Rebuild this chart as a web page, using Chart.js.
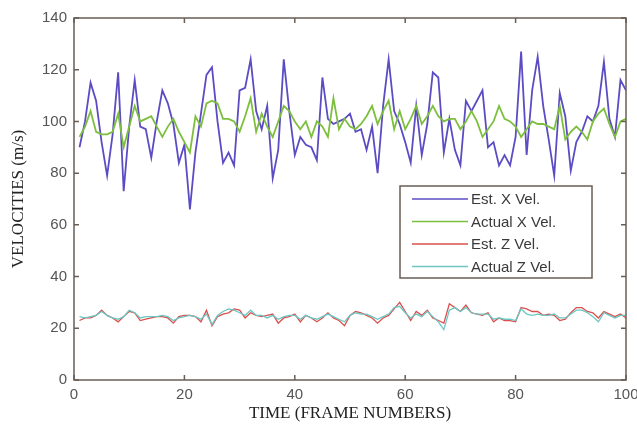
<!DOCTYPE html>
<html>
<head>
<meta charset="utf-8">
<script src="https://cdn.jsdelivr.net/npm/chart.js@4"></script>
<style>
  html, body { margin: 0; padding: 0; background: #fff; }
  #wrap { width: 637px; height: 424px; position: relative; }
</style>
</head>
<body>
<div id="wrap"><canvas id="velChart" width="637" height="424"></canvas></div>
<script>
// frame numbers 1..100
const frames = Array.from({ length: 100 }, (_, i) => i + 1);

const estXVel = [
  90, 100, 115, 108, 92, 79, 95, 119, 73, 98,
  116, 98, 97, 86, 100, 112, 107, 99, 84, 91,
  66, 88, 103, 118, 121, 100, 84, 88, 83, 112,
  113, 124, 104, 97, 106, 78, 89, 124, 104, 87,
  94, 91, 90, 85, 117, 101, 99, 100, 101, 103,
  96, 97, 89, 98, 80, 106, 124, 104, 99, 92,
  84, 106, 87, 99, 119, 117, 88, 101, 89, 83,
  108, 104, 108, 112, 90, 92, 83, 87, 83, 94,
  127, 87, 112, 125, 106, 93, 79, 111, 102, 81,
  92, 96, 102, 100, 106, 123, 101, 94, 116, 112
];

const actualXVel = [
  94, 98, 104, 96, 95, 95, 96, 103, 90, 98,
  106, 100, 101, 102, 98, 94, 98, 101, 96, 92,
  88, 102, 98, 107, 108, 107, 101, 101, 100, 96,
  102, 109, 96, 103, 98, 94, 100, 106, 104, 100,
  97, 100, 94, 100, 98, 94, 109, 97, 101, 98,
  97, 99, 102, 106, 99, 104, 108, 97, 104, 97,
  101, 106, 99, 102, 106, 102, 100, 101, 101, 97,
  100, 104, 100, 94, 97, 100, 106, 101, 100, 98,
  94, 97, 100, 99, 99, 98, 97, 106, 93, 96,
  98, 96, 93, 100, 103, 105, 99, 94, 100, 101
];

const estZVel = [
  23, 24, 24, 25, 27, 25, 24, 22.5, 24.5, 26.5,
  26, 23, 23.5, 24, 24.5, 24.5, 24, 22, 24.5, 25,
  25, 24.5, 22.5, 27, 21, 24.5, 25.5, 26, 27.5, 27,
  24, 26, 25, 24.5, 25, 25.5, 22, 24, 24.5, 25.5,
  22.5, 25, 24, 22.5, 24, 26, 24, 23, 21, 25,
  26.5, 26, 25, 24, 22, 24, 25, 27.5, 30, 26.5,
  23, 26.5, 25, 27, 24, 23, 22, 29.5, 28, 26.5,
  29, 26, 25.5, 25, 26, 22.5, 24, 23, 23, 22.5,
  28, 27.5, 26.5, 26.5, 25, 25.5, 25, 23, 23.5, 26,
  28, 28, 26.5, 26, 24, 26.5, 25.5, 24.5, 25.5, 24
];

const actualZVel = [
  24.5, 24, 24.5, 25, 26.5, 25, 24, 23.5, 24.5, 27,
  26, 24, 24.5, 24.5, 24.5, 25, 24.5, 23, 24, 24.5,
  25, 24.5, 23.5, 25.5, 21.5, 25, 26.5, 27.5, 27, 26,
  25, 27, 25, 25, 24, 25, 23.5, 24.5, 25, 25,
  23.5, 25, 24, 23.5, 24.5, 25.5, 24.5, 23.5, 22.5, 25,
  26, 25.5, 25.5, 24.5, 23.5, 24.5, 25.5, 28, 28.5, 26,
  24, 25.5, 24.5, 26.5, 24.5, 22.5, 19.5, 27, 28, 26.5,
  28, 26, 25.5, 25.5, 25.5, 23.5, 24, 23.5, 23.5, 23,
  27.5, 25.5, 25, 25.5, 25, 25, 25.5, 24, 24, 25.5,
  27, 27, 26, 24.5, 22.5, 26, 25, 24, 25, 25
];

const xTicks = [0, 20, 40, 60, 80, 100];
const yTicks = [0, 20, 40, 60, 80, 100, 120, 140];

const seriesNames = ['Est. X Vel.', 'Actual X Vel.', 'Est. Z Vel.', 'Actual Z Vel.'];

const toPoints = vals => vals.map((v, i) => ({ x: frames[i], y: v }));

const axisColor = '#6a5e54';
const tickFont = { family: 'Liberation Sans, Arial, sans-serif', size: 15 };

// MATLAB style box with inward ticks + in-plot legend
const matlabBox = {
  id: 'matlabBox',
  afterDraw(chart) {
    const { ctx, chartArea: a, scales } = chart;
    ctx.save();
    ctx.strokeStyle = axisColor;
    ctx.lineWidth = 1.5;
    ctx.strokeRect(a.left, a.top, a.right - a.left, a.bottom - a.top);
    ctx.beginPath();
    xTicks.forEach(t => {
      const px = scales.x.getPixelForValue(t);
      ctx.moveTo(px, a.bottom); ctx.lineTo(px, a.bottom - 5);
      ctx.moveTo(px, a.top); ctx.lineTo(px, a.top + 5);
    });
    yTicks.forEach(t => {
      const py = scales.y.getPixelForValue(t);
      ctx.moveTo(a.left, py); ctx.lineTo(a.left + 5, py);
      ctx.moveTo(a.right, py); ctx.lineTo(a.right - 5, py);
    });
    ctx.stroke();

    // legend
    const lx = 400, ly = 186, lw = 192, lh = 92;
    ctx.fillStyle = '#fff';
    ctx.fillRect(lx, ly, lw, lh);
    ctx.lineWidth = 1.5;
    ctx.strokeStyle = axisColor;
    ctx.strokeRect(lx, ly, lw, lh);
    ctx.font = '15px "Liberation Sans", Arial, sans-serif';
    ctx.textBaseline = 'middle';
    chart.data.datasets.forEach((ds, i) => {
      const y = ly + 13 + i * 22.5;
      ctx.strokeStyle = ds.borderColor;
      ctx.lineWidth = 1.5;
      ctx.beginPath();
      ctx.moveTo(lx + 12, y); ctx.lineTo(lx + 68, y);
      ctx.stroke();
      ctx.fillStyle = '#3a3a3a';
      ctx.fillText(ds.label, lx + 71, y + 1);
    });
    ctx.restore();
  }
};

const ctx = document.getElementById('velChart').getContext('2d');

new Chart(ctx, {
  type: 'line',
  data: {
    datasets: [
      { label: seriesNames[0], data: toPoints(estXVel), borderColor: '#5b4cc4', borderWidth: 1.8, order: 4 },
      { label: seriesNames[1], data: toPoints(actualXVel), borderColor: '#7cbf3c', borderWidth: 1.8, order: 3 },
      { label: seriesNames[2], data: toPoints(estZVel), borderColor: '#d9504c', borderWidth: 1.3, order: 2 },
      { label: seriesNames[3], data: toPoints(actualZVel), borderColor: '#6cc7c4', borderWidth: 1.3, order: 1 }
    ]
  },
  options: {
    responsive: false,
    animation: false,
    events: [],
    elements: {
      point: { radius: 0 },
      line: { tension: 0, fill: false }
    },
    layout: { padding: { top: 18, right: 11, left: 0, bottom: 0 } },
    plugins: {
      legend: { display: false },
      tooltip: { enabled: false }
    },
    scales: {
      x: {
        type: 'linear',
        min: 0,
        max: 100,
        afterBuildTicks: s => { s.ticks = xTicks.map(v => ({ value: v })); },
        afterFit: s => { s.height = 44; s.paddingLeft = 0; s.paddingRight = 0; },
        grid: { display: false, drawTicks: false },
        border: { display: false },
        ticks: { color: '#555', font: tickFont, padding: 6, maxRotation: 0 },
        title: {
          display: true,
          text: 'TIME (FRAME NUMBERS)',
          color: '#222',
          font: { family: 'Liberation Serif, Times New Roman, serif', size: 17 },
          padding: { top: 0, bottom: 0 }
        }
      },
      y: {
        min: 0,
        max: 140,
        afterBuildTicks: s => { s.ticks = yTicks.map(v => ({ value: v })); },
        afterFit: s => { s.width = 74; s.paddingTop = 0; s.paddingBottom = 0; },
        grid: { display: false, drawTicks: false },
        border: { display: false },
        ticks: { color: '#555', font: tickFont, padding: 7 },
        title: {
          display: true,
          text: 'VELOCITIES (m/s)',
          color: '#222',
          font: { family: 'Liberation Serif, Times New Roman, serif', size: 17 },
          padding: { top: 8, bottom: 0 }
        }
      }
    }
  },
  plugins: [matlabBox]
});
</script>
</body>
</html>
